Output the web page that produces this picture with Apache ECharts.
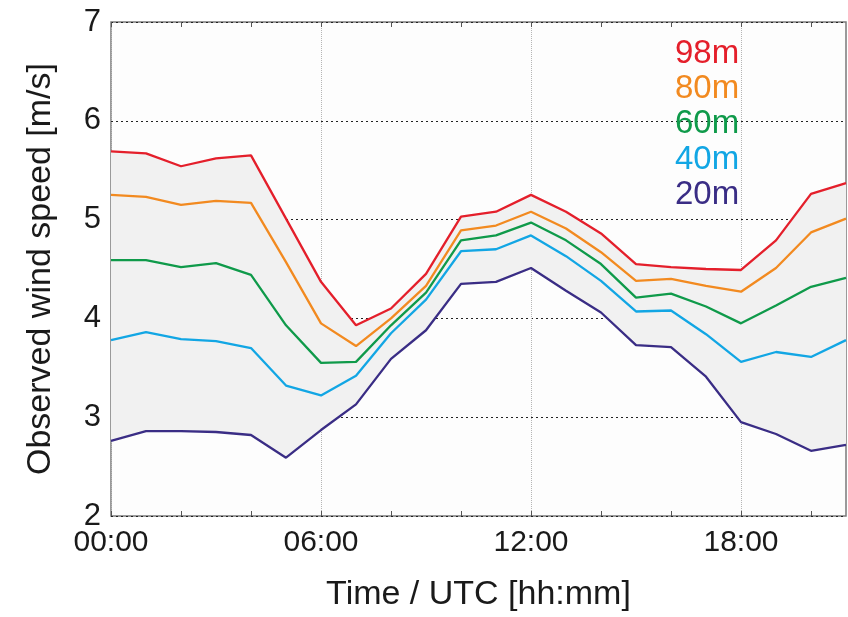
<!DOCTYPE html>
<html lang="en">
<head>
  <meta charset="UTF-8" />
  <title>Observed wind speed</title>
  <script src="https://cdn.jsdelivr.net/npm/echarts@6/dist/echarts.min.js"></script>
  <style>
    body { margin: 0; background: #fff; }
    #main { width: 848px; height: 617px; }
  </style>
</head>
<body>
  <div id="main"></div>
  <script>
    // hourly means, 00:00 .. 21:00 UTC
    const hours = ['00:00','01:00','02:00','03:00','04:00','05:00','06:00','07:00','08:00','09:00','10:00',
                   '11:00','12:00','13:00','14:00','15:00','16:00','17:00','18:00','19:00','20:00','21:00'];
    const ws98 = [5.69,5.67,5.54,5.62,5.65,5.01,4.37,3.93,4.10,4.45,5.03,5.08,5.25,5.08,4.86,4.55,4.52,4.50,4.49,4.79,5.26,5.37];
    const ws80 = [5.25,5.23,5.15,5.19,5.17,4.57,3.95,3.72,4.00,4.33,4.89,4.94,5.08,4.91,4.67,4.38,4.40,4.33,4.27,4.51,4.87,5.01];
    const ws60 = [4.59,4.59,4.52,4.56,4.44,3.93,3.55,3.56,3.93,4.26,4.79,4.84,4.97,4.79,4.55,4.21,4.25,4.12,3.95,4.13,4.32,4.41];
    const ws40 = [3.78,3.86,3.79,3.77,3.70,3.32,3.22,3.42,3.85,4.19,4.68,4.70,4.84,4.63,4.38,4.07,4.08,3.84,3.56,3.66,3.61,3.78];
    const ws20 = [2.76,2.86,2.86,2.85,2.82,2.59,2.87,3.13,3.59,3.88,4.35,4.37,4.51,4.28,4.06,3.73,3.71,3.41,2.95,2.83,2.66,2.72];

    const heights = ['98m', '80m', '60m', '40m', '20m'];
    const colors = ['#e41f2b', '#f28a20', '#0f9a4a', '#12a6e4', '#3a2d85'];
    const values = [ws98, ws80, ws60, ws40, ws20];

    const font = "'Liberation Sans', Arial, sans-serif";
    const chart = echarts.init(document.getElementById('main'));

    // grey band between lowest and highest level
    const bandBase = ws20;
    const bandSpan = ws98.map((v, i) => +(v - ws20[i]).toFixed(2));

    const lineSeries = heights.map((name, k) => ({
      name: name,
      type: 'line',
      data: values[k],
      symbol: 'none',
      z: 10 - k,
      lineStyle: { color: colors[k], width: 2.3 },
      itemStyle: { color: colors[k] }
    })).reverse();

    chart.setOption({
      backgroundColor: '#fff',
      animation: false,
      grid: {
        left: 111, right: 2, top: 22, bottom: 99,
        show: true,
        backgroundColor: '#fdfdfd',
        borderColor: '#7a7a7a',
        borderWidth: 1.5
      },
      legend: {
        orient: 'vertical',
        left: 670,
        top: 36,
        padding: 0,
        itemGap: 0,
        itemWidth: 0,
        itemHeight: 0,
        icon: 'none',
        selectedMode: false,
        textStyle: { fontFamily: font, fontSize: 33, lineHeight: 35.3 },
        data: heights.map((h, k) => ({ name: h, textStyle: { color: colors[k] } }))
      },
      xAxis: [{
        type: 'category',
        data: hours,
        boundaryGap: false,
        name: 'Time / UTC [hh:mm]',
        nameLocation: 'middle',
        nameGap: 62,
        nameTextStyle: { fontFamily: font, fontSize: 34, color: '#1a1a1a' },
        axisLine: { show: false },
        axisTick: { show: true, inside: true, length: 5, interval: (i) => i % 2 === 0, lineStyle: { color: '#555' } },
        axisLabel: {
          interval: (i) => i % 6 === 0,
          margin: 12,
          fontFamily: font, fontSize: 30, color: '#1a1a1a'
        },
        splitLine: {
          show: true,
          interval: (i) => i % 6 === 0,
          lineStyle: { color: '#b5b5b5', type: 'dotted', width: 1 }
        }
      }, {
        type: 'category',
        data: hours,
        boundaryGap: false,
        position: 'top',
        axisLine: { show: false },
        axisTick: { show: true, inside: true, length: 5, interval: (i) => i % 2 === 0, lineStyle: { color: '#555' } },
        axisLabel: { show: false },
        splitLine: { show: false }
      }],
      yAxis: {
        type: 'value',
        min: 2,
        max: 7,
        interval: 1,
        name: 'Observed wind speed [m/s]',
        nameLocation: 'middle',
        nameGap: 53,
        nameTextStyle: { fontFamily: font, fontSize: 34, color: '#1a1a1a' },
        axisLine: { show: false },
        axisTick: { show: false },
        axisLabel: { margin: 10, fontFamily: font, fontSize: 31, color: '#1a1a1a' },
        splitLine: { lineStyle: { color: '#222', type: [2, 3], width: 1 } }
      },
      series: [{
        name: 'base',
        type: 'line',
        stack: 'band',
        data: bandBase,
        symbol: 'none',
        silent: true,
        lineStyle: { opacity: 0 },
        z: 1
      }, {
        name: 'band',
        type: 'line',
        stack: 'band',
        data: bandSpan,
        symbol: 'none',
        silent: true,
        lineStyle: { opacity: 0 },
        areaStyle: { color: '#f1f1f1', opacity: 1 },
        z: 1
      }].concat(lineSeries)
    });
  </script>
</body>
</html>
